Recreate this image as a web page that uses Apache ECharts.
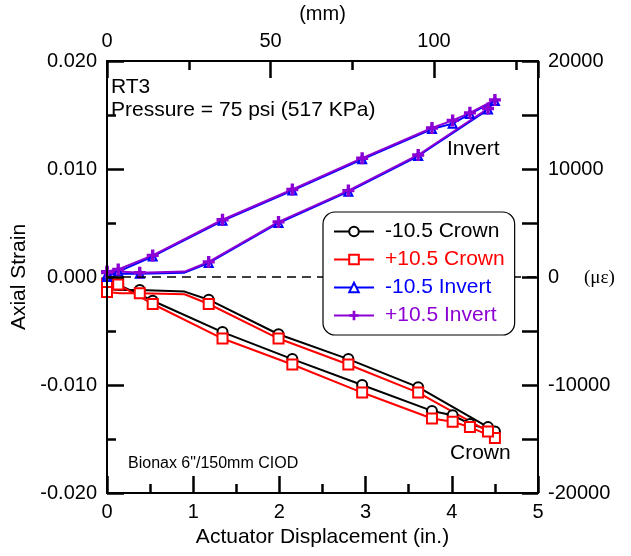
<!DOCTYPE html>
<html><head><meta charset="utf-8">
<script src="https://cdn.jsdelivr.net/npm/echarts@6/dist/echarts.min.js"></script>
<style>html,body{margin:0;padding:0;background:#fff}#c{width:631px;height:556px}</style>
</head><body><div id="c"></div>
<script>
// Actuator displacement (in.) — loading path then return path
const displacementIn = [0, 0.13, 0.53, 1.34, 2.15, 2.96, 3.77, 4.01, 4.21, 4.50, 4.42, 3.61, 2.80, 1.99, 1.18, 0.90, 0.38, 0.15, 0];
// 1 = marker drawn at that reading, 0 = line-only reading
const markerShown = [1, 1, 1, 1, 1, 1, 1, 1, 1, 1, 1, 1, 1, 1, 1, 0, 1, 0, 1];
// Axial strain per gauge
const crownMinus = [-0.0004, -0.0007, -0.0022, -0.0051, -0.0076, -0.0100, -0.0124, -0.0128, -0.0136, -0.0143, -0.0139, -0.0102, -0.0076, -0.0053, -0.0021, -0.00135, -0.0012, -0.0012, -0.0011];
const crownPlus  = [-0.0006, -0.0007, -0.0025, -0.0057, -0.0081, -0.0107, -0.0131, -0.0134, -0.0139, -0.0149, -0.0143, -0.0107, -0.0081, -0.0057, -0.0025, -0.0016, -0.0015, -0.0015, -0.0014];
const invertMinus = [0.0000, 0.0005, 0.0019, 0.0052, 0.0080, 0.0109, 0.0137, 0.0142, 0.0151, 0.0163, 0.0155, 0.0112, 0.0079, 0.0050, 0.0013, 0.0004, 0.0003, 0.0003, 0.0002];
const invertPlus  = [0.0005, 0.0007, 0.0020, 0.0053, 0.0081, 0.0110, 0.0138, 0.0145, 0.0152, 0.0164, 0.0156, 0.0113, 0.0080, 0.0051, 0.0014, 0.0005, 0.0004, 0.0005, 0.0004];

const seriesNames = ['-10.5 Crown', '+10.5 Crown', '-10.5 Invert', '+10.5 Invert'];
const seriesColors = ['#000000', '#ff0000', '#0000ff', '#8c00d4'];

const FONT = 'Liberation Sans, Arial, sans-serif';
const PLUS = 'path://M3.6,0H6.4V3.6H10V6.4H6.4V10H3.6V6.4H0V3.6H3.6Z';

function buildData(ys) {
  return displacementIn.map((x, i) => {
    const d = { value: [x, ys[i]] };
    if (!markerShown[i]) d.symbol = 'none';
    return d;
  });
}

function mkSeries(idx, ys, symbol, size) {
  return {
    name: seriesNames[idx], type: 'line', xAxisIndex: 0, yAxisIndex: 0,
    data: buildData(ys), symbol: symbol, symbolSize: size, showAllSymbol: true,
    lineStyle: { color: seriesColors[idx], width: 2 },
    itemStyle: { color: seriesColors[idx], borderWidth: 1.6 },
    emphasis: { disabled: true }, animation: false
  };
}

const series = [
  mkSeries(0, crownMinus, 'emptyCircle', 10),
  mkSeries(1, crownPlus, 'emptyRect', 10),
  mkSeries(2, invertMinus, 'emptyTriangle', 8),
  mkSeries(3, invertPlus, PLUS, 12)
];
series[0].markLine = {
  silent: true, symbol: ['none', 'none'], label: { show: false },
  lineStyle: { color: '#000', type: [9, 6], width: 1.5 },
  data: [{ yAxis: 0 }]
};

function axLine() { return { show: true, onZero: false, lineStyle: { color: '#000', width: 2 } }; }
function tick(len) { return { show: true, inside: true, length: len, lineStyle: { color: '#000', width: 2.5 } }; }
function minor(len) { return { show: true, splitNumber: 2, length: len, lineStyle: { color: '#000', width: 2.5 } }; }
const labelStyle = { color: '#000', fontSize: 20, fontFamily: FONT };

const option = {
  animation: false,
  grid: { left: 107, right: 93, top: 61, bottom: 63, outerBoundsMode: 'none' },
  xAxis: [
    { type: 'value', position: 'bottom', min: 0, max: 5, interval: 1, z: 5,
      axisLine: axLine(), splitLine: { show: false },
      axisTick: tick(17), minorTick: minor(9),
      axisLabel: Object.assign({ margin: 9 }, labelStyle),
      name: 'Actuator Displacement (in.)', nameLocation: 'middle', nameGap: 33,
      nameTextStyle: { color: '#000', fontSize: 21, fontFamily: FONT } },
    { type: 'value', position: 'top', min: 0, max: 131.8, interval: 50, z: 5,
      axisLine: axLine(), splitLine: { show: false },
      axisTick: tick(17),
      axisLabel: Object.assign({ margin: 10, formatter: v => (Math.abs(v % 50) < 1e-6 ? String(Math.round(v)) : '') }, labelStyle),
      name: '(mm)', nameLocation: 'middle', nameGap: 37,
      nameTextStyle: { color: '#000', fontSize: 20, fontFamily: FONT } },
    { type: 'value', position: 'top', min: 0, max: 131.8, interval: 25, z: 5,
      axisLine: axLine(), splitLine: { show: false },
      axisTick: tick(9),
      axisLabel: { show: false } }
  ],
  yAxis: [
    { type: 'value', position: 'left', min: -0.02, max: 0.02, interval: 0.01, z: 5,
      axisLine: axLine(), splitLine: { show: false },
      axisTick: tick(17), minorTick: minor(9),
      axisLabel: Object.assign({ margin: 10, formatter: v => (Math.abs(v) < 1e-9 ? 0 : v).toFixed(3) }, labelStyle),
      name: 'Axial Strain', nameLocation: 'middle', nameGap: 76,
      nameTextStyle: { color: '#000', fontSize: 21, fontFamily: FONT } },
    { type: 'value', position: 'right', min: -20000, max: 20000, interval: 5000, z: 5,
      axisLine: axLine(), splitLine: { show: false },
      axisTick: tick(16),
      axisLabel: Object.assign({ margin: 10, formatter: v => (Math.round(v) % 10000 === 0 ? String(Math.round(v)) : '') }, labelStyle) }
  ],
  legend: {
    orient: 'vertical', left: 323, top: 212, z: 6,
    padding: [9, 10, 9, 10], itemGap: 7, itemWidth: 40, itemHeight: 12,
    borderColor: '#000', borderWidth: 1.2, borderRadius: 12, backgroundColor: '#fff',
    textStyle: { fontSize: 21, fontFamily: FONT, padding: [0, 0, 0, 6] },
    selectedMode: false,
    data: seriesNames.map((n, i) => ({ name: n, textStyle: { color: seriesColors[i] } }))
  },
  graphic: [
    { type: 'text', left: 111, top: 77, z: 10, style: { text: 'RT3', font: '21px ' + FONT, fill: '#000' } },
    { type: 'text', left: 111, top: 100, z: 10, style: { text: 'Pressure = 75 psi (517 KPa)', font: '21px ' + FONT, fill: '#000' } },
    { type: 'text', left: 447, top: 139, z: 10, style: { text: 'Invert', font: '21px ' + FONT, fill: '#000' } },
    { type: 'text', left: 450, top: 443, z: 10, style: { text: 'Crown', font: '21px ' + FONT, fill: '#000' } },
    { type: 'text', left: 128, top: 456, z: 10, style: { text: 'Bionax 6"/150mm CIOD', font: '16px ' + FONT, fill: '#000' } },
    { type: 'text', left: 584, top: 269, z: 10, style: { text: '(με)', font: '19px Liberation Serif, serif', fill: '#000' } }
  ],
  series: series
};

const chart = echarts.init(document.getElementById('c'), null, { renderer: 'canvas' });
chart.setOption(option);
</script>
</body></html>
